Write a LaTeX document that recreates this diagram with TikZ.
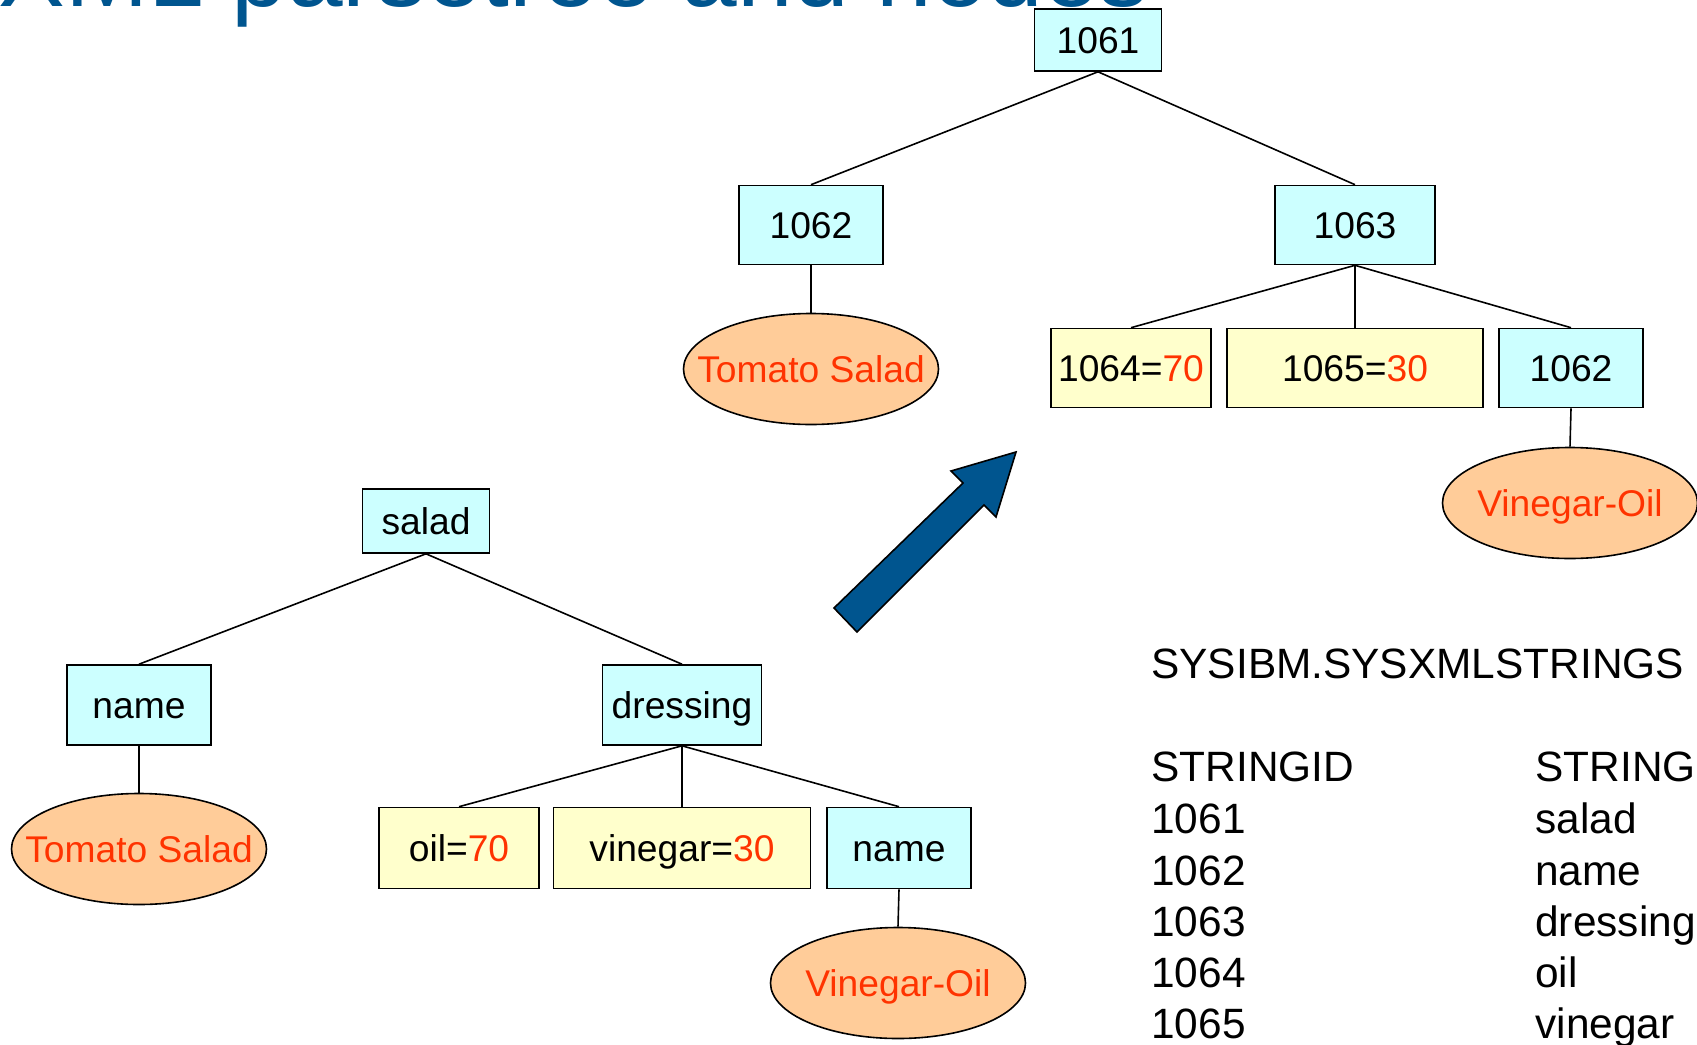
\documentclass[tikz,border=0pt]{standalone}
\usepackage{fontspec}
\setmainfont{Liberation Sans}
\usetikzlibrary{shapes.geometric}

\definecolor{tagcyan}{HTML}{CCFFFF}
\definecolor{valyellow}{HTML}{FFFFCC}
\definecolor{textpeach}{HTML}{FFCC99}
\definecolor{valred}{HTML}{FF3300}
\definecolor{slideblue}{HTML}{00558F}

\tikzset{
  tag/.style={draw, line width=0.8pt, fill=tagcyan, inner sep=0pt,
    minimum height=39.5pt, text height=13.3pt, text depth=0pt,
    font=\fontsize{18.6}{22}\selectfont},
  attr/.style={tag, fill=valyellow},
  txt/.style={draw, line width=0.8pt, ellipse, fill=textpeach, inner sep=0pt,
    minimum width=127.5pt, minimum height=55.5pt, text=valred,
    text height=13.3pt, text depth=0pt, font=\fontsize{18.6}{22}\selectfont},
  tbl/.style={anchor=base west, inner sep=0pt, font=\fontsize{21.2}{25}\selectfont},
  edge/.style={draw, line width=0.8pt}
}
\newcommand{\val}[1]{\textcolor{valred}{#1}}
% text value kept out of the ellipse's size
\newcommand{\ovaltext}[1]{\makebox[0pt]{#1}}

\begin{document}
\begin{tikzpicture}[x=0.5pt, y=-0.5pt]
\useasboundingbox (0,0) rectangle (1697,1044);
\clip (0,0) rectangle (1697,1044);

\node[anchor=base west, inner sep=0pt, text=slideblue, font=\fontsize{50}{60}\selectfont] (title) at (-2,6) {XML parsetree and nodes};

% tree with string ids
\node[tag, minimum width=63.5pt, minimum height=31pt] (n1061) at (1098,40) {1061};
\node[tag, minimum width=72pt] (n1062) at (811,225) {1062};
\node[tag, minimum width=80pt] (n1063) at (1355,225) {1063};
\node[txt] (tomatoT) at (811,369) {\ovaltext{Tomato Salad}};
\node[attr, minimum width=80pt] (n1064) at (1131,368) {1064=\val{70}};
\node[attr, minimum width=128pt] (n1065) at (1355,368) {1065=\val{30}};
\node[tag, minimum width=72pt] (n1062b) at (1571,368) {1062};
\node[txt] (vinoilT) at (1570,503) {\ovaltext{Vinegar-Oil}};

\path[edge] (n1061.south) -- (n1062.north);
\path[edge] (n1061.south) -- (n1063.north);
\path[edge] (n1062.south) -- (tomatoT.north);
\path[edge] (n1063.south) -- (n1064.north);
\path[edge] (n1063.south) -- (n1065.north);
\path[edge] (n1063.south) -- (n1062b.north);
\path[edge] (n1062b.south) -- (vinoilT.north);

% tree with element names
\node[tag, minimum width=63.5pt, minimum height=32pt] (salad) at (426,521) {salad};
\node[tag, minimum width=72pt, minimum height=40pt] (name) at (139,705) {name};
\node[tag, minimum width=79.5pt, minimum height=40pt] (dressing) at (682,705) {dressing};
\node[txt] (tomato) at (139,849) {\ovaltext{Tomato Salad}};
\node[attr, minimum width=80pt, minimum height=40.5pt] (oil) at (459,848) {oil=\val{70}};
\node[attr, minimum width=128.5pt, minimum height=40.5pt] (vinegar) at (682,848) {vinegar=\val{30}};
\node[tag, minimum width=72pt, minimum height=40.5pt] (nameb) at (899,848) {name};
\node[txt] (vinoil) at (898,983) {\ovaltext{Vinegar-Oil}};

\path[edge] (salad.south) -- (name.north);
\path[edge] (salad.south) -- (dressing.north);
\path[edge] (name.south) -- (tomato.north);
\path[edge] (dressing.south) -- (oil.north);
\path[edge] (dressing.south) -- (vinegar.north);
\path[edge] (dressing.south) -- (nameb.north);
\path[edge] (nameb.south) -- (vinoil.north);

% block arrow between the trees
\filldraw[fill=slideblue, draw=black, line width=0.8pt, line join=miter]
  (857,632) -- (834,608) -- (963,483) -- (951,471) -- (1016,452)
  -- (996,517) -- (984,505) -- cycle;

% string table
\node[tbl] (tblname) at (1151,678) {SYSIBM.SYSXMLSTRINGS};
\node[tbl] (colid) at (1151,781) {STRINGID};
\node[tbl] (colstr) at (1535,781) {STRING};
\node[tbl] (id1) at (1151,833) {1061};
\node[tbl] (str1) at (1535,833) {salad};
\node[tbl] (id2) at (1151,885) {1062};
\node[tbl] (str2) at (1535,885) {name};
\node[tbl] (id3) at (1151,936) {1063};
\node[tbl] (str3) at (1535,936) {dressing};
\node[tbl] (id4) at (1151,987) {1064};
\node[tbl] (str4) at (1535,987) {oil};
\node[tbl] (id5) at (1151,1038) {1065};
\node[tbl] (str5) at (1535,1038) {vinegar};
\end{tikzpicture}
\end{document}
